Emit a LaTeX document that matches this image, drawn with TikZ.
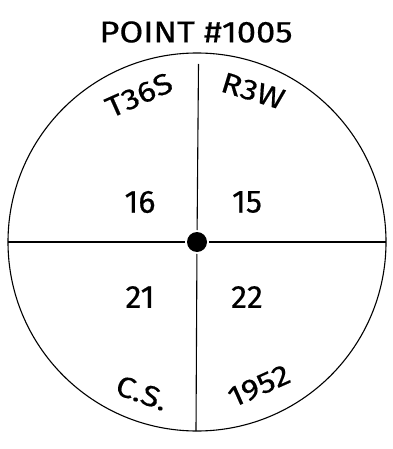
\documentclass[tikz,border=0pt]{standalone}
\usepackage{fontspec}
\setmainfont[FakeBold=0.5]{Fira Sans}
\newfontfamily\widesans[FakeStretch=1.15,FakeBold=0.5]{Fira Sans}
\usetikzlibrary{positioning}

\begin{document}
\begin{tikzpicture}[
    x=1pt, y=-1pt,
    title/.style={font=\widesans\fontsize{30}{30}\selectfont},
    secnum/.style={font=\fontsize{32}{32}\selectfont},
    rimlabel/.style={font=\widesans\fontsize{29}{29}\selectfont, inner sep=0pt},
    rule/.style={line width=1.1pt},
]
\useasboundingbox (0,0) rectangle (392,449);
\node[title] (head) at (196,32) {POINT \#1005};
\draw[rule] (197,242) circle[radius=189];
\node[circle, fill=black, minimum size=20pt, inner sep=0pt, outer sep=2pt] (pt) at (197,242) {};
\coordinate (ntop) at (198.5,64);
\coordinate (nbot) at (196,431);
\coordinate (wend) at (8,242);
\coordinate (eend) at (386,242);
\draw[rule] (pt) -- (ntop);
\draw[rule] (pt) -- (nbot);
\draw[rule] (pt) -- (wend);
\draw[rule] (pt) -- (eend);
% section numbers
\node[secnum] (s16) at (140,202) {16};
\node[secnum] (s15) at (247,202) {15};
\node[secnum] (s21) at (140,297) {21};
\node[secnum] (s22) at (247,297) {22};
% township, range and survey notes
\node[rimlabel, rotate=24] (twp) at (139,95) {T36S};
\node[rimlabel, rotate=-17] (rng) at (253,91) {R3W};
\node[rimlabel, rotate=-20] (surv) at (142,393) {C.S.};
\node[rimlabel, rotate=24] (yr) at (259,386) {1952};
\end{tikzpicture}
\end{document}
